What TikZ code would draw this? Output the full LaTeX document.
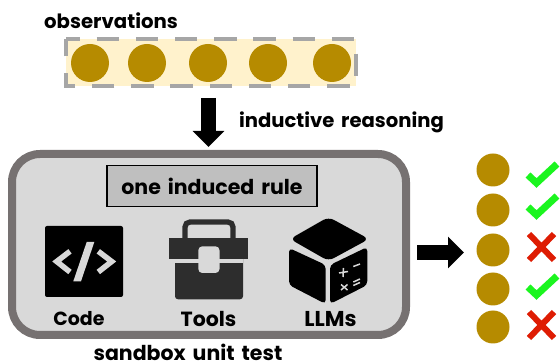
\documentclass[tikz,border=0pt]{standalone}
\usepackage{fontspec}
\setmainfont{Poppins}[WordSpace=1.6]
\usetikzlibrary{arrows.meta}
\definecolor{gold}{HTML}{B68B00}
\definecolor{cream}{HTML}{FFF2CC}
\definecolor{dashgray}{HTML}{A6A6A6}
\definecolor{frame}{HTML}{767171}
\definecolor{panel}{HTML}{D9D9D9}
\definecolor{rulefill}{HTML}{BFBFBF}
\definecolor{toolc}{HTML}{2D2D2D}
\definecolor{okc}{HTML}{1BF51F}
\definecolor{noc}{HTML}{DE1C03}
\tikzset{
  x=1pt,y=-1pt,
  dot/.style={circle,fill=gold,inner sep=0pt},
  lab/.style={inner sep=0pt,font=\bfseries\fontsize{#1}{#1}\selectfont,text=black},
  blockarrow/.style={line width=15pt,-{Triangle[length=16pt,width=31pt]}},
  okmark/.style={okc,line width=7pt},
  nomark/.style={noc,line width=6pt},
}
\begin{document}
\begin{tikzpicture}
\useasboundingbox (0,0) rectangle (560,363);
% observations
\node[lab=19.7] (obslab) at (111,21) {observations};
\node[minimum width=290pt,minimum height=47pt,inner sep=0pt,fill=cream] (obs) at (211,62.5) {};
\draw[dashgray,line width=4.5pt,dash pattern=on 22.4pt off 16.8pt,dash phase=8.4pt]
  (obs.north west) -- (obs.north east) -- (obs.south east) -- (obs.south west) -- cycle;
\foreach \n/\x in {1/90,2/147,3/208,4/268,5/332}
  \node[dot,minimum size=38pt] (o\n) at (\x,63) {};
% sandbox
\node[minimum width=394pt,minimum height=181pt,inner sep=0pt,rounded corners=28pt,draw=frame,line width=8pt,fill=panel] (box) at (209,244.5) {};
\node[minimum width=210pt,minimum height=41pt,inner sep=0pt,draw=black,line width=1.6pt,fill=rulefill,lab=20.5] (rule) at (212,186) {one induced rule};
% down arrow
\coordinate (dstart) at (208.5,98);
\coordinate (dend) at (208.5,147);
\draw[blockarrow] (dstart) -- (dend);
\node[lab=19.6] (ind) at (341.5,122) {inductive reasoning};
% code icon
\fill[black,rounded corners=2pt] (45,226) rectangle (123,297);
\begin{scope}[panel,line width=5.5pt]
\draw (70,251.3) -- (56.7,261.5) -- (70,272);
\draw (98.3,251.3) -- (111.7,261.5) -- (98.3,272);
\fill (86.7,242) -- (94.3,242) -- (81,281.3) -- (73.3,281.3) -- cycle;
\end{scope}
\node[lab=19] (code) at (79,319) {Code};
% tools icon
\draw[toolc,line width=5.3pt,rounded corners=5pt] (185,240) -- (185,222) -- (233,222) -- (233,240);
\fill[toolc] (169.3,238.3) rectangle (248.3,259.3);
\fill[toolc,rounded corners=3pt] (175,255) -- (243,255) -- (243,299.3) -- (175,299.3) -- cycle;
\fill[panel] (175,259.3) rectangle (243,262.7);
\fill[toolc] (175,262.7) rectangle (243,268);
\fill[panel,rounded corners=4pt] (198.3,246.3) rectangle (219.5,273);
\node[lab=20.5] (tools) at (208.5,319) {Tools};
% llm icon
\fill[black,rounded corners=6pt] (328.5,217) -- (369,239) -- (328.5,261) -- (290,239) -- cycle;
\fill[black,rounded corners=4pt] (289,248) -- (325.7,265) -- (325.7,304) -- (289,285) -- cycle;
\fill[black,rounded corners=4pt] (367.3,247) -- (330,265) -- (330,304) -- (367.3,285) -- cycle;
\begin{scope}[panel,line width=1.5pt]
\draw (339,273) -- (348,271.5) (343.5,268) -- (343,277);
\draw (353.3,266.5) -- (360,264);
\draw (341,284.5) -- (347.5,290) (347.5,284.5) -- (341,290);
\draw (353.3,282) -- (360,279) (353.3,285.5) -- (360,282.5);
\end{scope}
\node[lab=21.5] (llms) at (330.5,319) {LLMs};
\node[lab=20.5] (sand) at (188,352.5) {sandbox unit test};
% right arrow
\coordinate (rstart) at (417,252.5);
\coordinate (rend) at (464,252.5);
\draw[blockarrow] (rstart) -- (rend);
% results
\foreach \n/\y in {1/170,2/210,3/250,4/289,5/327}
  \node[dot,minimum size=33pt] (r\n) at (493,\y) {};
\foreach \y in {0,32,112}
  \draw[okmark] (528,175+\y) -- (536.5,183+\y) -- (557,164+\y);
\foreach \y in {0,78}
  \draw[nomark] (529,234+\y) -- (554,260+\y) (554,234+\y) -- (529,260+\y);
\end{tikzpicture}
\end{document}
